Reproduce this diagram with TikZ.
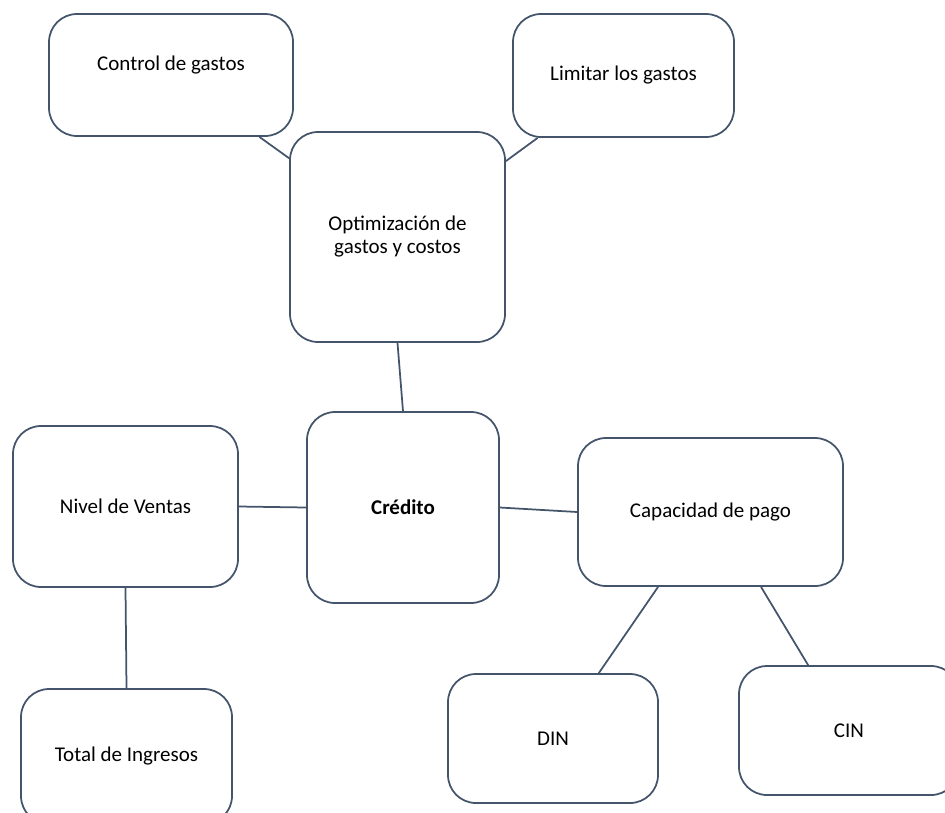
\documentclass[tikz,border=0pt]{standalone}
\usepackage{fontspec}
\setmainfont{Carlito}
\usepackage{tikz}
\definecolor{slate}{HTML}{44546A}

\begin{document}
\begin{tikzpicture}[x=1pt, y=-1pt,
    box/.style={rectangle, rounded corners=28pt, draw=slate, line width=1.75pt,
        fill=white, font=\fontsize{21}{23}\selectfont, align=center, inner sep=0pt},
    link/.style={draw=slate, line width=1.75pt},
]
\clip (0,0) rectangle (945,812);
\useasboundingbox (0,0) rectangle (945,812);

% upper row
\node[box, minimum width=244pt, minimum height=122pt, text depth=24pt] (CTRL) at (171,75) {Control de gastos};
\node[box, minimum width=221pt, minimum height=123pt] (LIM) at (623.5,75.5) {Limitar los gastos};
\node[box, minimum width=215pt, minimum height=210pt] (OPT) at (397.5,237) {Optimización de\\gastos y costos};

% middle row
\node[box, minimum width=192pt, minimum height=191pt, font=\fontsize{21}{23}\selectfont\bfseries] (CRED) at (403,507.5) {Crédito};
\node[box, minimum width=225pt, minimum height=161pt] (NIV) at (125.5,506.5) {Nivel de Ventas};
\node[box, minimum width=265pt, minimum height=148pt] (CAP) at (710.5,512) {Capacidad de pago};

% lower row
\node[box, minimum width=211pt, minimum height=135pt] (TOT) at (126.5,756.5) {Total de Ingresos};
\node[box, minimum width=210pt, minimum height=129pt] (DIN) at (553,738.5) {DIN};
\node[box, minimum width=220pt, minimum height=129pt] (CIN) at (849,730.5) {CIN};

\draw[link] (CTRL.-35.5) -- (OPT.144.7);
\draw[link] (LIM.216.2) -- (OPT.35.3);
\draw[link] (OPT.south) -- (CRED.north);
\draw[link] (NIV.east) -- (CRED.west);
\draw[link] (CRED.east) -- (CAP.west);
\draw[link] (NIV.south) -- (TOT.north);
\draw[link] (CAP.235.2) -- (DIN.55.1);
\draw[link] (CAP.-56.8) -- (CIN.122.4);
\end{tikzpicture}
\end{document}
